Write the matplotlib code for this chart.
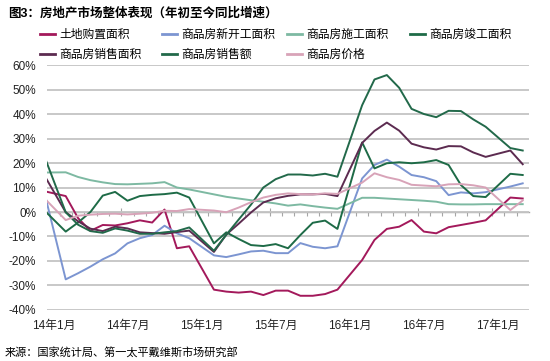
import matplotlib
matplotlib.use("Agg")
import matplotlib.pyplot as plt
from matplotlib.lines import Line2D
import pandas as pd

plt.rcParams['font.family'] = ['Liberation Sans', 'Noto Sans CJK SC', 'DejaVu Sans']

# YTD months (Jan+Feb reported together, so no Jan points); Dec-13 sits just off the left edge
months = ['2013-12'] + [f'{y}-{m:02d}' for y in (2014, 2015, 2016) for m in range(2, 13)] + ['2017-02', '2017-03']

land = [8.8, 6.5, -2.5, -7.7, -5.3, -5.5, -4.6, -3.4, -4.3, 1.0, -14.8, -14.0,
        -31.7, -32.5, -32.9, -32.5, -33.9, -32.1, -32.1, -34.2, -34.2, -33.5, -31.7,
        -19.6, -11.4, -6.9, -6.0, -3.3, -8.0, -8.7, -6.2, -5.3, -4.4, -3.4,
        5.9, 5.5]
new_starts = [13.5, -27.5, -25.0, -22.3, -19.3, -16.9, -12.8, -10.7, -9.4, -5.6, -8.7, -10.7,
              -17.7, -18.4, -17.3, -16.1, -15.8, -16.8, -16.8, -12.7, -14.2, -14.8, -14.0,
              13.7, 19.2, 21.4, 18.5, 15.1, 14.2, 12.6, 6.9, 8.0, 7.6, 8.1,
              10.4, 11.7]
construction = [16.1, 16.2, 14.3, 13.0, 12.1, 11.4, 11.3, 11.5, 11.7, 12.2, 10.0, 9.2,
                7.2, 6.2, 5.5, 4.8, 4.2, 3.5, 2.6, 3.1, 2.4, 1.8, 1.3,
                5.8, 5.8, 5.5, 5.2, 4.9, 4.6, 4.2, 3.2, 3.1, 3.1, 3.2,
                3.2, 3.2]
completed = [2.0, -8.0, -4.3, 0.0, 6.7, 8.2, 4.6, 6.5, 7.0, 7.3, 7.9, 5.9,
             -12.8, -8.3, -11.0, -13.5, -13.9, -13.1, -14.8, -9.4, -4.4, -3.5, -6.9,
             28.4, 17.8, 19.9, 20.3, 19.9, 20.3, 21.2, 19.2, 11.0, 6.5, 6.1,
             15.6, 15.1]
sales_area = [17.3, -0.1, -3.8, -6.8, -7.8, -6.0, -6.7, -8.3, -8.6, -8.9, -8.2, -7.6,
              -16.3, -9.2, -4.8, -0.2, 3.9, 5.6, 6.6, 7.2, 7.2, 7.4, 6.5,
              28.2, 33.1, 36.5, 33.2, 27.9, 26.4, 25.5, 26.9, 26.8, 24.3, 22.5,
              25.1, 19.5]
sales_value = [26.3, -0.1, -5.2, -7.8, -8.5, -6.7, -7.6, -8.9, -8.9, -8.3, -7.8, -6.3,
               -15.8, -9.3, -3.1, 3.0, 10.0, 13.4, 15.3, 15.3, 14.9, 15.6, 14.4,
               43.6, 54.1, 55.9, 50.7, 42.1, 40.0, 38.7, 41.3, 41.2, 37.8, 34.8,
               26.1, 25.1]
price = [7.0, -3.3, -1.5, -1.1, -0.8, -0.7, -1.0, -0.7, -0.3, 0.5, 0.4, 1.2,
         0.6, -0.1, 1.8, 4.0, 5.9, 7.0, 7.6, 7.3, 7.2, 7.6, 7.4,
         12.0, 15.8, 14.2, 13.1, 11.1, 10.8, 10.5, 11.3, 11.4, 10.9, 10.0,
         0.8, 4.7]

x_label_months = [0, 6, 12, 18, 24, 30, 36]
x_labels = ['14年1月', '14年7月', '15年1月', '15年7月', '16年1月', '16年7月', '17年1月']

series = [
    ('土地购置面积', land, '#A3195B'),
    ('商品房新开工面积', new_starts, '#7C95D1'),
    ('商品房施工面积', construction, '#7DB9A2'),
    ('商品房竣工面积', completed, '#1E6B47'),
    ('商品房销售面积', sales_area, '#5C2B50'),
    ('商品房销售额', sales_value, '#22694A'),
    ('商品房价格', price, '#D8A3B8'),
]

d = pd.to_datetime(months)
x = (d.year - 2014) * 12 + d.month - 1  # month index, Jan-14 = 0

fig = plt.figure(figsize=(5.5, 3.61), dpi=100)
ax = fig.add_axes([0.0858, 0.1413, 0.8758, 0.6786])

for name, vals, col in series:
    ax.plot(x, vals, color=col, lw=1.4, label=name)

ax.set_xlim(-0.5, 38.5)
ax.set_ylim(-40, 60)
ax.set_yticks(range(-40, 61, 10))
ax.set_yticklabels([f'{v}%' for v in range(-40, 61, 10)])
ax.yaxis.grid(True, color='#C4C4C4', lw=1.3)
ax.set_axisbelow(True)
for s in ax.spines.values():
    s.set_visible(False)
ax.set_xticks(x_label_months)
ax.set_xticklabels(x_labels)
ax.tick_params(axis='x', length=0, pad=7, labelsize=8.5, colors='#222222')
ax.tick_params(axis='y', length=0, pad=8, labelsize=8.5, colors='#222222')

# category axis drawn along 0%
sec = ax.secondary_xaxis(0, transform=ax.transData)
sec.spines['bottom'].set_color('#A6A6A6')
sec.spines['bottom'].set_linewidth(1.0)
sec.set_xticks([m - 0.5 for m in range(6, 39, 6)])
sec.set_xticks([m - 0.5 for m in range(1, 39) if m % 6], minor=True)
sec.tick_params(which='major', direction='inout', length=6, width=0.8, color='#A6A6A6', labelbottom=False)
sec.tick_params(which='minor', direction='out', length=3, width=0.8, color='#A6A6A6', labelbottom=False)

# legend: 4 columns in row order
handles = {name: Line2D([], [], color=col, lw=2) for name, _, col in series}
cols = [['土地购置面积', '商品房销售面积'], ['商品房新开工面积', '商品房销售额'],
        ['商品房施工面积', '商品房价格'], ['商品房竣工面积']]
col_x = [40, 162, 287, 410]
for names, cx in zip(cols, col_x):
    fig.legend([handles[n] for n in names], names, loc='upper left',
               bbox_to_anchor=(cx / 550, 1 - 29 / 361), bbox_transform=fig.transFigure,
               frameon=False, fontsize=8.5, borderpad=0, borderaxespad=0,
               handlelength=1.3, handletextpad=0.3, labelspacing=0.7)

fig.text(8 / 550, 1 - 13 / 361, '图3：房地产市场整体表现（年初至今同比增速）',
         fontsize=9, weight='bold', va='center', ha='left')
fig.text(5 / 550, 1 - 353 / 361, '来源：国家统计局、第一太平戴维斯市场研究部',
         fontsize=8, style='italic', va='center', ha='left')

fig.savefig('out.png', dpi=100)
